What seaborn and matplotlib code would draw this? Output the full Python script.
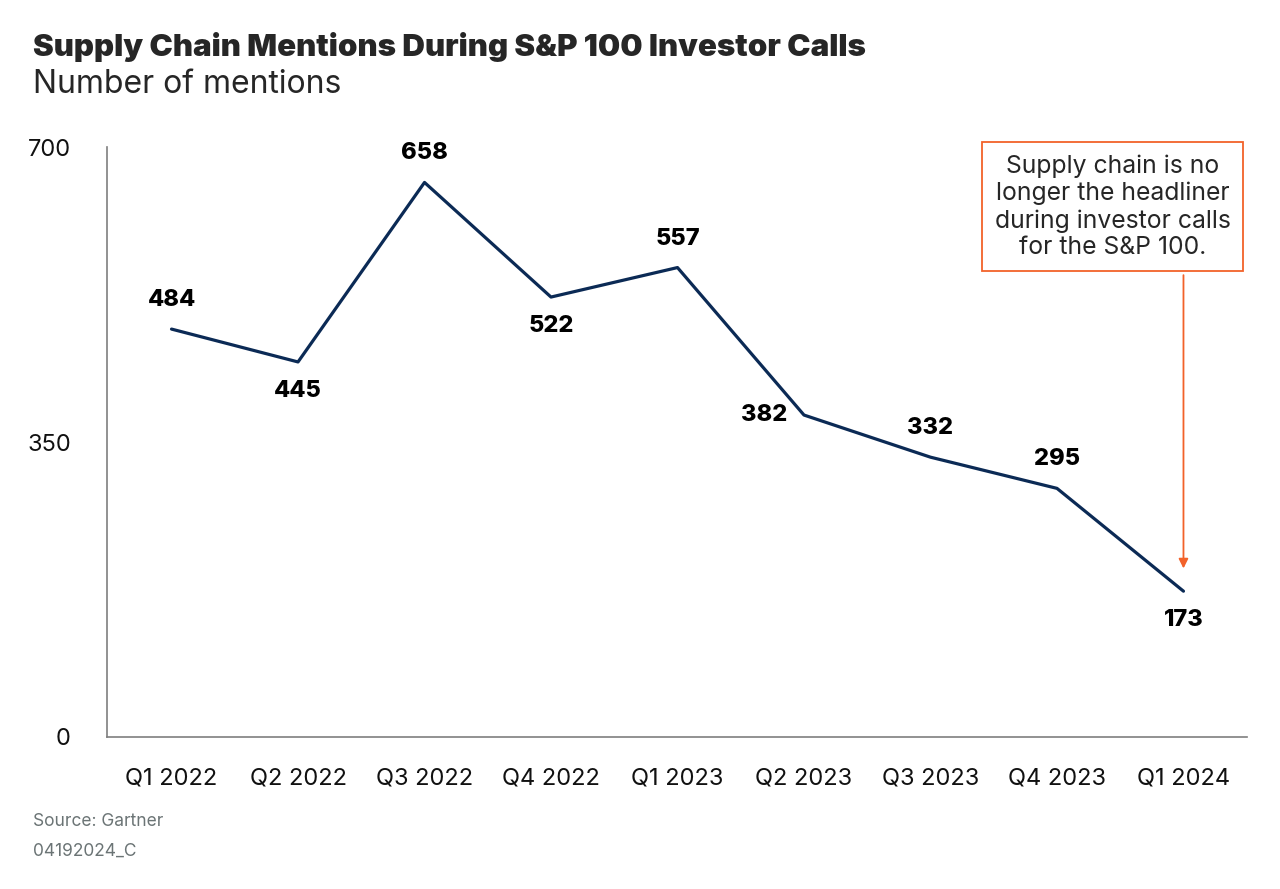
import matplotlib
matplotlib.use("Agg")
import matplotlib.pyplot as plt
import seaborn as sns
import pandas as pd

quarters = ["Q1 2022", "Q2 2022", "Q3 2022", "Q4 2022", "Q1 2023",
            "Q2 2023", "Q3 2023", "Q4 2023", "Q1 2024"]
mentions = [484, 445, 658, 522, 557, 382, 332, 295, 173]
# where each value label sits relative to its point
label_pos = ["above", "below", "above", "below", "above", "left", "above", "above", "below"]

df = pd.DataFrame({"quarter": quarters, "mentions": mentions, "idx": range(len(quarters))})

sns.set_style("white")
plt.rcParams["font.family"] = ["Inter", "DejaVu Sans"]

navy = "#0b2a55"
orange = "#f2622a"
grey = "#6b7475"

fig = plt.figure(figsize=(12.8, 8.89), dpi=100)
ax = fig.add_axes([0.0836, 0.171, 0.8904, 0.6636])

sns.lineplot(data=df, x="idx", y="mentions", color=navy, linewidth=2.3, ax=ax)

for i, (v, p) in enumerate(zip(mentions, label_pos)):
    if p == "above":
        ax.annotate(str(v), (i, v), xytext=(0, 13), textcoords="offset points",
                    ha="center", va="bottom", fontsize=17, fontweight="heavy", color="black")
    elif p == "below":
        ax.annotate(str(v), (i, v), xytext=(0, -13), textcoords="offset points",
                    ha="center", va="top", fontsize=17, fontweight="heavy", color="black")
    else:
        ax.annotate(str(v), (i, v), xytext=(-12, 0), textcoords="offset points",
                    ha="right", va="center", fontsize=17, fontweight="heavy", color="black")

ax.set_xlim(-0.51, 8.5)
ax.set_ylim(0, 700)
ax.set_xticks(range(len(quarters)))
ax.set_xticklabels(quarters)
ax.set_yticks([0, 350, 700])
ax.set_xlabel("")
ax.set_ylabel("")
ax.tick_params(axis="both", length=0, labelsize=17, colors="#111111")
ax.tick_params(axis="x", pad=22)
ax.tick_params(axis="y", pad=26)
for s in ["top", "right"]:
    ax.spines[s].set_visible(False)
for s in ["left", "bottom"]:
    ax.spines[s].set_color("#7f7f7f")
    ax.spines[s].set_linewidth(1.2)

# callout box with arrow to last point
ax.annotate("", xy=(8, 200), xytext=(8, 548),
            arrowprops=dict(arrowstyle="-|>", color=orange, lw=1.3, mutation_scale=14,
                            shrinkA=0, shrinkB=0))
ax.text(7.44, 629, "Supply chain is no\nlonger the headliner\nduring investor calls\nfor the S&P 100.",
        ha="center", va="center", fontsize=17.8, linespacing=1.2, zorder=5,
        bbox=dict(boxstyle="square,pad=0.5", fc="white", ec=orange, lw=1.3))

fig.text(0.026, 0.93, "Supply Chain Mentions During S&P 100 Investor Calls",
         fontsize=22.5, fontweight="black", ha="left", va="bottom")
fig.text(0.026, 0.887, "Number of mentions", fontsize=23, ha="left", va="bottom")
fig.text(0.026, 0.066, "Source: Gartner", fontsize=12.5, color=grey, ha="left", va="bottom")
fig.text(0.026, 0.033, "04192024_C", fontsize=12.5, color=grey, ha="left", va="bottom")

fig.savefig("out.png", dpi=100, facecolor="white")
